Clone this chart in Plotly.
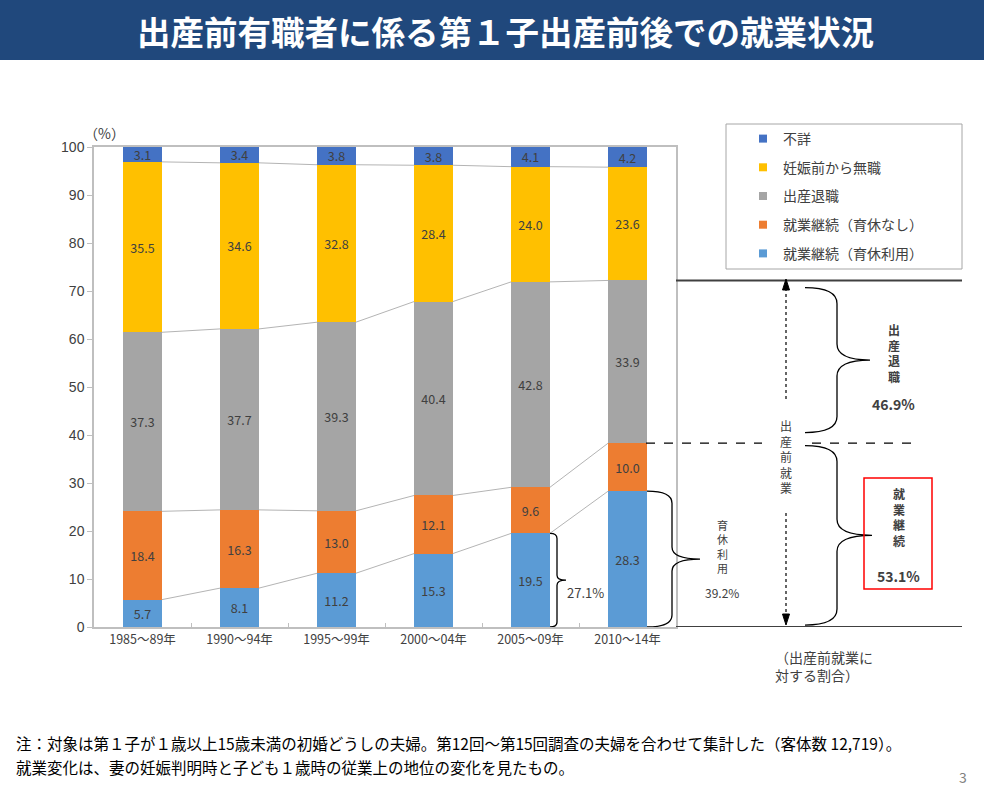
import plotly.graph_objects as go

# ---------------- data ----------------
categories = ["1985～89年", "1990～94年", "1995～99年", "2000～04年", "2005～09年", "2010～14年"]
s_ikukyu = [5.7, 8.1, 11.2, 15.3, 19.5, 28.3]      # 就業継続（育休利用）
s_nashi = [18.4, 16.3, 13.0, 12.1, 9.6, 10.0]      # 就業継続（育休なし）
s_taishoku = [37.3, 37.7, 39.3, 40.4, 42.8, 33.9]  # 出産退職
s_mushoku = [35.5, 34.6, 32.8, 28.4, 24.0, 23.6]   # 妊娠前から無職
s_fusho = [3.1, 3.4, 3.8, 3.8, 4.1, 4.2]           # 不詳

# shares relative to pre-birth employment (as printed)
share_quit_2010 = 46.9
share_cont_2010 = 53.1
share_ikukyu_2010 = 39.2
share_ikukyu_2005 = 27.1

names = ["就業継続（育休利用）", "就業継続（育休なし）", "出産退職", "妊娠前から無職", "不詳"]
colors = ["#5B9BD5", "#ED7D31", "#A5A5A5", "#FFC000", "#4472C4"]
series = [s_ikukyu, s_nashi, s_taishoku, s_mushoku, s_fusho]

FONT = "Noto Sans CJK JP"
TXT = "#404040"
W, H = 984, 788
L, R, T, B = 94, 676, 147, 627  # plot area in pixels


def px(p):
    return (p - L) / (R - L)


def py(p):
    return (B - p) / (B - T)


fig = go.Figure()
xs = list(range(len(categories)))
BW = 0.4

for name, col, vals in zip(names, colors, series):
    fig.add_trace(go.Bar(
        x=xs, y=vals, name=name, marker=dict(color=col, line=dict(width=0)),
        width=BW, text=[f"{v:.1f}" for v in vals], textposition="inside",
        insidetextanchor="middle", textangle=0,
        textfont=dict(family=FONT, size=12.5, color=TXT),
        showlegend=False, hoverinfo="skip"))

# connector lines between bars at cumulative boundaries
cum = [0.0] * len(categories)
for vals in series[:-1]:
    cum = [c + v for c, v in zip(cum, vals)]
    lx, ly = [], []
    for i in range(len(categories) - 1):
        lx += [i + BW / 2, i + 1 - BW / 2, None]
        ly += [cum[i], cum[i + 1], None]
    fig.add_trace(go.Scatter(x=lx, y=ly, mode="lines", line=dict(color="#B4B4B4", width=1),
                             showlegend=False, hoverinfo="skip"))

# legend entries (top to bottom)
for name, col in zip(names[::-1], colors[::-1]):
    fig.add_trace(go.Scatter(x=[None], y=[None], mode="markers", name=name, legendgroup=name,
                             marker=dict(symbol="square", size=8, color=col)))

last = len(categories) - 1
prev = last - 1
c_ik = s_ikukyu[last]
c_cont = s_ikukyu[last] + s_nashi[last]
c_pre = c_cont + s_taishoku[last]

shapes = []
# title bar
shapes.append(dict(type="rect", xref="paper", yref="paper", x0=px(0), x1=px(W), y0=py(60), y1=py(0),
                   fillcolor="#20487C", line=dict(width=0), layer="below"))
# legend box
shapes.append(dict(type="rect", xref="paper", yref="paper", x0=px(726), x1=px(962), y0=py(269), y1=py(124),
                   line=dict(color="#A6A6A6", width=1)))
# horizontal lines on right
shapes.append(dict(type="line", xref="paper", yref="y", x0=px(676), x1=px(962), y0=c_pre, y1=c_pre,
                   line=dict(color="#404040", width=2)))
shapes.append(dict(type="line", xref="paper", yref="y", x0=px(676), x1=px(962), y0=0, y1=0,
                   line=dict(color="#404040", width=2)))
for a, b in [(646, 762), (812, 915)]:
    shapes.append(dict(type="line", xref="paper", yref="y", x0=px(a), x1=px(b), y0=c_cont, y1=c_cont,
                       line=dict(color="#000000", width=1.3, dash="dash")))
# vertical dashed arrow
shapes.append(dict(type="line", xref="paper", yref="paper", x0=px(786), x1=px(786), y0=py(288), y1=py(400),
                   line=dict(color="#000000", width=1.2, dash="dot")))
shapes.append(dict(type="line", xref="paper", yref="paper", x0=px(786), x1=px(786), y0=py(513), y1=py(615),
                   line=dict(color="#000000", width=1.2, dash="dot")))


def tri(pts):
    s = "M " + " L ".join(f"{px(a)},{py(b)}" for a, b in pts) + " Z"
    return dict(type="path", xref="paper", yref="paper", path=s, fillcolor="#000000",
                line=dict(color="#000000", width=1))


shapes.append(tri([(786, 279), (782.5, 290), (789.5, 290)]))
shapes.append(tri([(786, 625), (782.5, 614), (789.5, 614)]))


def brace(x0, xm, x1, ytop, ybot, rpx):
    r = rpx / 4.8
    ym = (ytop + ybot) / 2
    X0, XM, X1 = px(x0), px(xm), px(x1)
    p = (f"M {X0},{ytop} Q {XM},{ytop} {XM},{ytop - r} L {XM},{ym + r} "
         f"Q {XM},{ym} {X1},{ym} Q {XM},{ym} {XM},{ym - r} L {XM},{ybot + r} "
         f"Q {XM},{ybot} {X0},{ybot}")
    return dict(type="path", xref="paper", yref="y", path=p, line=dict(color="#000000", width=1.3))


shapes.append(brace(550, 557, 566, s_ikukyu[prev], 0, 5))
shapes.append(brace(647, 672, 700, c_ik, 0, 12))
shapes.append(brace(805, 837, 870, c_pre - 1.5, c_cont + 2.2, 16))
shapes.append(brace(805, 837, 872, c_cont - 0.5, 0.4, 16))
# red box
shapes.append(dict(type="rect", xref="paper", yref="paper", x0=px(864), x1=px(932), y0=py(589), y1=py(478),
                   line=dict(color="#FF0000", width=1.5)))

ann = []


def A(x, y, text, size=12, color=TXT, xanchor="center", yanchor="middle", bold=False, align="center"):
    ann.append(dict(xref="paper", yref="paper", x=px(x), y=py(y), text=(f"<b>{text}</b>" if bold else text),
                    showarrow=False, xanchor=xanchor, yanchor=yanchor, align=align,
                    font=dict(family=FONT, size=size, color=color)))


A(505, 30, "出産前有職者に係る第１子出産前後での就業状況", size=33.5, color="#FFFFFF", bold=True)
A(104, 133, "（%）", size=14)
A(786, 456, "<br>".join("出産前就業"), size=12)
A(722, 546, "<br>".join("育休利用"), size=11)
A(722, 592, f"{share_ikukyu_2010:.1f}%", size=12)
A(585, 592, f"{share_ikukyu_2005:.1f}%", size=13)
A(894, 353, "<br>".join("出産退職"), size=12, bold=True)
A(893, 404, f"{share_quit_2010:.1f}%", size=14, bold=True)
A(899, 517, "<br>".join("就業継続"), size=12, bold=True)
A(898, 576, f"{share_cont_2010:.1f}%", size=14, bold=True)
A(773, 666, "（出産前就業に<br>対する割合）", size=14, xanchor="left", align="left")
A(14, 743, "注：対象は第１子が１歳以上15歳未満の初婚どうしの夫婦。第12回～第15回調査の夫婦を合わせて集計した（客体数 12,719）。",
  size=15.5, color="#000000", xanchor="left", align="left")
A(14, 766.5, "就業変化は、妻の妊娠判明時と子ども１歳時の従業上の地位の変化を見たもの。",
  size=15.5, color="#000000", xanchor="left", align="left")
A(963, 777, "3", size=14, color="#7F7F7F")

fig.update_layout(
    width=W, height=H, barmode="stack",
    margin=dict(l=L, r=W - R, t=T, b=H - B, pad=0),
    paper_bgcolor="#FFFFFF", plot_bgcolor="#FFFFFF",
    font=dict(family=FONT, color=TXT),
    shapes=shapes, annotations=ann,
    legend=dict(x=px(743), xanchor="left", y=py(123), yanchor="top", bgcolor="rgba(0,0,0,0)",
                font=dict(family=FONT, size=14, color=TXT), tracegroupgap=7.5, traceorder="grouped",
                itemwidth=30),
    xaxis=dict(range=[-0.5, len(categories) - 0.5], tickvals=xs, ticktext=categories,
               showline=True, mirror=True, linecolor="#BFBFBF", linewidth=1.5, ticks="",
               tickfont=dict(family=FONT, size=12.5, color=TXT), showgrid=False, zeroline=False,
               minor=dict(tickvals=[i + 0.5 for i in xs[:-1]], ticks="inside", ticklen=4, tickcolor="#BFBFBF")),
    yaxis=dict(range=[0, 100], dtick=10, showline=True, mirror=True, linecolor="#BFBFBF", linewidth=1.5,
               ticks="outside", ticklen=5, tickcolor="#BFBFBF", showgrid=False, zeroline=False,
               tickfont=dict(family="Liberation Sans", size=14, color=TXT)),
    uniformtext=dict(minsize=12, mode="show"),
)

fig.write_html("out.html")
